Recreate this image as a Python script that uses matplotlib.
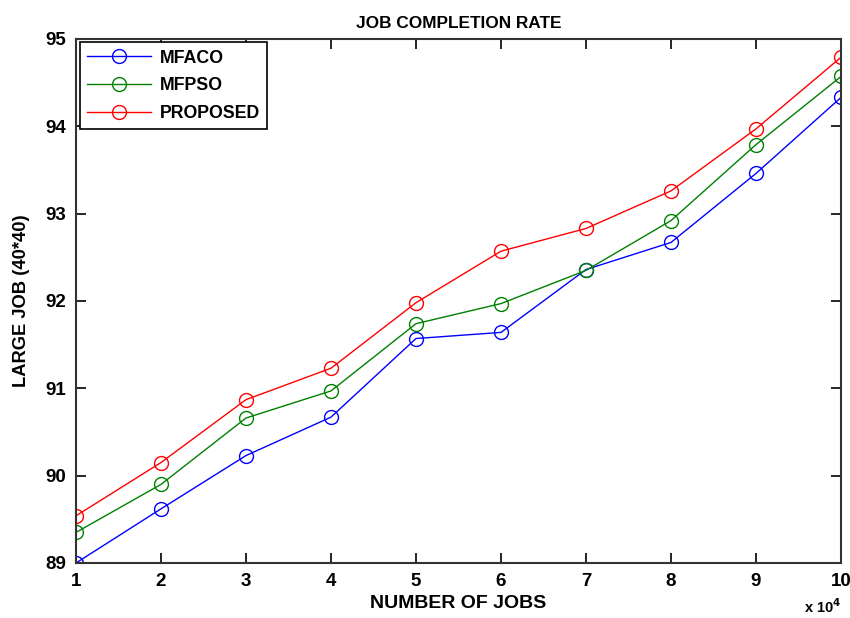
import numpy as np
import matplotlib
matplotlib.use('Agg')
import matplotlib.pyplot as plt

plt.rcParams['font.family'] = ['Liberation Sans', 'DejaVu Sans']
plt.rcParams['font.weight'] = 'bold'

# number of jobs (x 10^4)
jobs = [1, 2, 3, 4, 5, 6, 7, 8, 9, 10]

mfaco = [89.00, 89.62, 90.23, 90.67, 91.57, 91.64, 92.36, 92.67, 93.46, 94.33]
mfpso = [89.35, 89.90, 90.66, 90.97, 91.74, 91.97, 92.35, 92.92, 93.79, 94.57]
proposed = [89.54, 90.15, 90.87, 91.23, 91.98, 92.57, 92.83, 93.26, 93.97, 94.79]

fig = plt.figure(figsize=(8.5, 6.18), dpi=100)
ax = fig.add_axes([0.0894, 0.089, 0.9, 0.848])

ax.plot(jobs, mfaco, color='#0000ff', marker='o', markersize=10, mfc='none', lw=1, label='MFACO')
ax.plot(jobs, mfpso, color='#008000', marker='o', markersize=10, mfc='none', lw=1, label='MFPSO')
ax.plot(jobs, proposed, color='#ff0000', marker='o', markersize=10, mfc='none', lw=1, label='PROPOSED')

ax.set_xlim(1, 10)
ax.set_ylim(89, 95)
ax.set_xticks(jobs)
ax.set_yticks([89, 90, 91, 92, 93, 94, 95])
ax.tick_params(direction='in', top=True, right=True, length=7, width=1.2, labelsize=13.5, pad=7)
for s in ax.spines.values():
    s.set_linewidth(1.5)
    s.set_color('#333333')

ax.set_title('JOB COMPLETION RATE', fontsize=12.4, fontweight='bold', pad=8)
ax.set_xlabel('NUMBER OF JOBS', fontsize=14, fontweight='bold', labelpad=4)
ax.set_ylabel('LARGE JOB (40*40)', fontsize=13.2, fontweight='bold', labelpad=11)
ax.text(1.0, -0.066, r'x 10$^4$', transform=ax.transAxes, ha='right', va='top', fontsize=10.5, fontweight='bold')

leg = ax.legend(loc='upper left', fontsize=12.8, frameon=True, fancybox=False, framealpha=1,
                edgecolor='black', borderaxespad=0.2, handlelength=3.6, handletextpad=0.5,
                labelspacing=0.6)
leg.get_frame().set_linewidth(1.2)

fig.savefig('out.png', dpi=100)
